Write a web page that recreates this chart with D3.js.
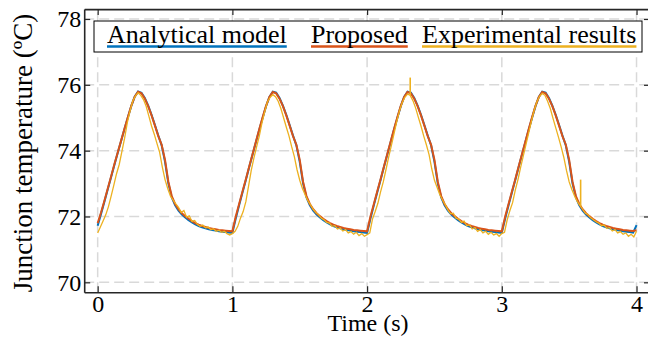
<!DOCTYPE html>
<html>
<head>
<meta charset="utf-8">
<script src="https://cdn.jsdelivr.net/npm/d3@7"></script>
<style>
  body { margin: 0; background: #fff; }
  svg text { font-family: "Liberation Serif", "Times New Roman", serif; fill: #000; }
</style>
</head>
<body>
<svg width="648" height="343"></svg>
<script>
// tick labels
var xTicks = [0, 1, 2, 3, 4];
var yTicks = [70, 72, 74, 76, 78];

// legend / series names
var seriesNames = ["Analytical model", "Proposed", "Experimental results"];
var seriesColors = ["#0072BD", "#D95319", "#EDB120"];

// model curves, sampled every 0.025 s from 0 to 4 s
var modelTime = d3.range(0, 4.0001, 0.025);

var analytical = [
  71.72, 72.08, 72.45, 72.83, 73.20, 73.58, 73.95, 74.31, 74.67, 75.02, 75.36, 75.64, 75.80, 75.76, 75.60, 75.37, 75.09, 74.78, 74.46, 74.16,
  73.66, 73.00, 72.58, 72.34, 72.18, 72.06, 71.97, 71.89, 71.82, 71.76, 71.71, 71.67, 71.64, 71.61, 71.59, 71.57, 71.55, 71.54, 71.53, 71.51,
  71.50, 71.94, 72.34, 72.73, 73.11, 73.50, 73.88, 74.26, 74.64, 75.00, 75.35, 75.63, 75.79, 75.76, 75.60, 75.37, 75.09, 74.78, 74.46, 74.16,
  73.66, 73.00, 72.58, 72.34, 72.18, 72.06, 71.97, 71.89, 71.82, 71.76, 71.71, 71.67, 71.64, 71.61, 71.59, 71.57, 71.55, 71.54, 71.53, 71.51,
  71.50, 71.94, 72.34, 72.73, 73.11, 73.50, 73.88, 74.26, 74.64, 75.00, 75.35, 75.63, 75.79, 75.76, 75.60, 75.37, 75.09, 74.78, 74.46, 74.16,
  73.66, 73.00, 72.58, 72.34, 72.18, 72.06, 71.97, 71.89, 71.82, 71.76, 71.71, 71.67, 71.64, 71.61, 71.59, 71.57, 71.55, 71.54, 71.53, 71.51,
  71.50, 71.94, 72.34, 72.73, 73.11, 73.50, 73.88, 74.26, 74.64, 75.00, 75.35, 75.63, 75.79, 75.76, 75.60, 75.37, 75.09, 74.78, 74.46, 74.16,
  73.66, 73.00, 72.58, 72.34, 72.18, 72.06, 71.97, 71.89, 71.82, 71.76, 71.71, 71.67, 71.64, 71.61, 71.59, 71.57, 71.55, 71.54, 71.53, 71.51,
  71.74
];

var proposed = [
  71.80, 72.12, 72.48, 72.85, 73.22, 73.60, 73.96, 74.32, 74.68, 75.03, 75.37, 75.64, 75.79, 75.74, 75.58, 75.35, 75.07, 74.76, 74.44, 74.18,
  73.72, 73.05, 72.62, 72.38, 72.22, 72.10, 72.01, 71.93, 71.86, 71.80, 71.75, 71.71, 71.68, 71.65, 71.63, 71.61, 71.59, 71.58, 71.57, 71.56,
  71.55, 72.00, 72.38, 72.76, 73.13, 73.52, 73.90, 74.28, 74.66, 75.02, 75.36, 75.63, 75.78, 75.74, 75.58, 75.35, 75.07, 74.76, 74.44, 74.18,
  73.72, 73.05, 72.62, 72.38, 72.22, 72.10, 72.01, 71.93, 71.86, 71.80, 71.75, 71.71, 71.68, 71.65, 71.63, 71.61, 71.59, 71.58, 71.57, 71.56,
  71.55, 72.00, 72.38, 72.76, 73.13, 73.52, 73.90, 74.28, 74.66, 75.02, 75.36, 75.63, 75.78, 75.74, 75.58, 75.35, 75.07, 74.76, 74.44, 74.18,
  73.72, 73.05, 72.62, 72.38, 72.22, 72.10, 72.01, 71.93, 71.86, 71.80, 71.75, 71.71, 71.68, 71.65, 71.63, 71.61, 71.59, 71.58, 71.57, 71.56,
  71.55, 72.00, 72.38, 72.76, 73.13, 73.52, 73.90, 74.28, 74.66, 75.02, 75.36, 75.63, 75.78, 75.74, 75.58, 75.35, 75.07, 74.76, 74.44, 74.18,
  73.72, 73.05, 72.62, 72.38, 72.22, 72.10, 72.01, 71.93, 71.86, 71.80, 71.75, 71.71, 71.68, 71.65, 71.63, 71.61, 71.59, 71.58, 71.57, 71.56,
  71.58
];

// measurement, sampled every 0.02 s
var expTime = d3.range(0, 4.0001, 0.02);

var experimental = [
  71.50, 71.68, 71.86, 72.05, 72.30, 72.62, 72.95, 73.30, 73.58, 73.98, 74.38, 74.85, 75.20, 75.50, 75.66, 75.76, 75.68, 75.55, 75.35, 75.05, 74.75, 74.50, 74.22, 73.95, 73.50,
  73.12, 72.85, 72.62, 72.50, 72.38, 72.28, 72.12, 72.18, 71.98, 72.02, 71.85, 71.88, 71.76, 71.70, 71.74, 71.66, 71.68, 71.60, 71.63, 71.55, 71.58, 71.52, 71.55, 71.48, 71.44,
  71.48, 71.55, 71.70, 71.95, 72.15, 72.45, 72.92, 73.40, 73.78, 74.12, 74.45, 74.85, 75.18, 75.48, 75.62, 75.70, 75.64, 75.50, 75.28, 75.00, 74.72, 74.45, 74.12, 73.82, 73.42,
  73.10, 72.85, 72.66, 72.48, 72.35, 72.22, 72.12, 72.05, 71.95, 71.90, 71.82, 71.80, 71.70, 71.72, 71.62, 71.65, 71.56, 71.60, 71.50, 71.54, 71.46, 71.52, 71.42, 71.48, 71.40,
  71.45, 71.50, 71.92, 72.15, 72.40, 72.75, 73.05, 73.42, 73.80, 74.15, 74.52, 74.88, 75.20, 75.45, 75.62, 75.72, 75.68, 75.52, 75.30, 75.02, 74.75, 74.45, 74.18, 73.88, 73.45,
  73.10, 72.88, 72.66, 72.50, 72.36, 72.20, 72.08, 72.10, 71.95, 71.92, 71.82, 71.86, 71.72, 71.75, 71.62, 71.66, 71.55, 71.60, 71.50, 71.55, 71.46, 71.52, 71.44, 71.48, 71.40,
  71.48, 71.52, 71.90, 72.18, 72.42, 72.80, 73.12, 73.50, 73.85, 74.20, 74.55, 74.90, 75.22, 75.48, 75.65, 75.74, 75.68, 75.50, 75.28, 74.98, 74.70, 74.42, 74.12, 73.80, 73.40,
  73.05, 72.82, 72.62, 72.46, 72.34, 72.22, 72.10, 72.06, 71.96, 71.90, 71.84, 71.80, 71.72, 71.74, 71.64, 71.66, 71.56, 71.60, 71.50, 71.54, 71.46, 71.50, 71.40, 71.46, 71.38,
  71.55
];

// single-sample spikes in the measurement
var spikeTime = [2.32, 3.585];
var spikeLow = [75.70, 72.32];
var spikeHigh = [76.22, 73.12];

var svg = d3.select("svg");
var serif = "'Liberation Serif', 'Times New Roman', serif";

var x = d3.scaleLinear().domain([-0.1, 4.1]).range([84.2, 650]);
var y = d3.scaleLinear().domain([69.7, 78.3]).range([292.2, 9.1]);

// dashed grid
var grid = svg.append("g")
  .attr("stroke", "#d9d9d9")
  .attr("stroke-width", 1.5)
  .attr("stroke-dasharray", "10,5");

grid.selectAll(".gx")
  .data(xTicks)
  .enter()
  .append("line")
  .attr("x1", function(d){return x(d);})
  .attr("x2", function(d){return x(d);})
  .attr("y1", y.range()[0])
  .attr("y2", y.range()[1]);

grid.selectAll(".gy")
  .data(yTicks)
  .enter()
  .append("line")
  .attr("x1", x.range()[0])
  .attr("x2", x.range()[1])
  .attr("y1", function(d){return y(d);})
  .attr("y2", function(d){return y(d);});

// curves
var makeLine = function(times)
{
  return d3.line()
    .x(function(d, i){return x(times[i]);})
    .y(function(d){return y(d);});
}

svg.append("path")
  .datum(analytical)
  .attr("fill", "none")
  .attr("stroke", seriesColors[0])
  .attr("stroke-width", 2)
  .attr("d", makeLine(modelTime));

svg.append("path")
  .datum(proposed)
  .attr("fill", "none")
  .attr("stroke", seriesColors[1])
  .attr("stroke-width", 2)
  .attr("d", makeLine(modelTime));

svg.append("path")
  .datum(experimental)
  .attr("fill", "none")
  .attr("stroke", seriesColors[2])
  .attr("stroke-width", 1.3)
  .attr("d", makeLine(expTime));

svg.selectAll(".spike")
  .data(spikeTime)
  .enter()
  .append("line")
  .attr("stroke", seriesColors[2])
  .attr("stroke-width", 1.6)
  .attr("x1", function(d){return x(d);})
  .attr("x2", function(d){return x(d);})
  .attr("y1", function(d, i){return y(spikeLow[i]);})
  .attr("y2", function(d, i){return y(spikeHigh[i]);});

// axes, ticks pointing inward on all four sides
var axisColor = "#262626";
var fmt = d3.format("d");

var axBottom = svg.append("g")
  .attr("transform", "translate(0," + y.range()[0] + ")")
  .call(d3.axisBottom(x).tickValues(xTicks).tickFormat(fmt).tickSize(-6).tickSizeOuter(0).tickPadding(3));

var axLeft = svg.append("g")
  .attr("transform", "translate(" + x.range()[0] + ",0)")
  .call(d3.axisLeft(y).tickValues(yTicks).tickFormat(fmt).tickSize(-6).tickSizeOuter(0).tickPadding(3));

var axTop = svg.append("g")
  .attr("transform", "translate(0," + y.range()[1] + ")")
  .call(d3.axisTop(x).tickValues(xTicks).tickSize(-6).tickSizeOuter(0).tickFormat(""));

var axRight = svg.append("g")
  .attr("transform", "translate(" + x.range()[1] + ",0)")
  .call(d3.axisRight(y).tickValues(yTicks).tickSize(-6).tickSizeOuter(0).tickFormat(""));

[axBottom, axLeft, axTop, axRight].forEach(function(g)
{
  g.attr("font-family", serif);
  g.select(".domain").attr("stroke", axisColor).attr("stroke-width", 1.6);
  g.selectAll(".tick line").attr("stroke", axisColor).attr("stroke-width", 1.2);
  g.selectAll(".tick text")
    .style("font-family", serif)
    .style("font-size", "24px")
    .attr("fill", "#000");
});

// axis titles
svg.append("text")
  .attr("x", 368)
  .attr("y", 331)
  .attr("text-anchor", "middle")
  .style("font-size", "24px")
  .text("Time (s)");

svg.append("text")
  .attr("transform", "translate(32,153) rotate(-90)")
  .attr("text-anchor", "middle")
  .style("font-size", "27px")
  .text("Junction temperature (ºC)");

// legend
var legendX = [107, 311, 422];

svg.append("rect")
  .attr("x", 94)
  .attr("y", 21)
  .attr("width", 548)
  .attr("height", 31)
  .attr("fill", "#fff")
  .attr("stroke", "#000")
  .attr("stroke-width", 1);

var items = svg.selectAll(".legend")
  .data(seriesNames)
  .enter()
  .append("g");

var labels = items.append("text")
  .attr("x", function(d, i){return legendX[i];})
  .attr("y", 43)
  .style("font-size", "26px")
  .text(function(d){return d;});

items.insert("line", "text")
  .attr("x1", function(d, i){return legendX[i];})
  .attr("x2", function(d, i){return legendX[i] + labels.nodes()[i].getComputedTextLength();})
  .attr("y1", 46.5)
  .attr("y2", 46.5)
  .attr("stroke", function(d, i){return seriesColors[i];})
  .attr("stroke-width", 2.5);
</script>
</body>
</html>
